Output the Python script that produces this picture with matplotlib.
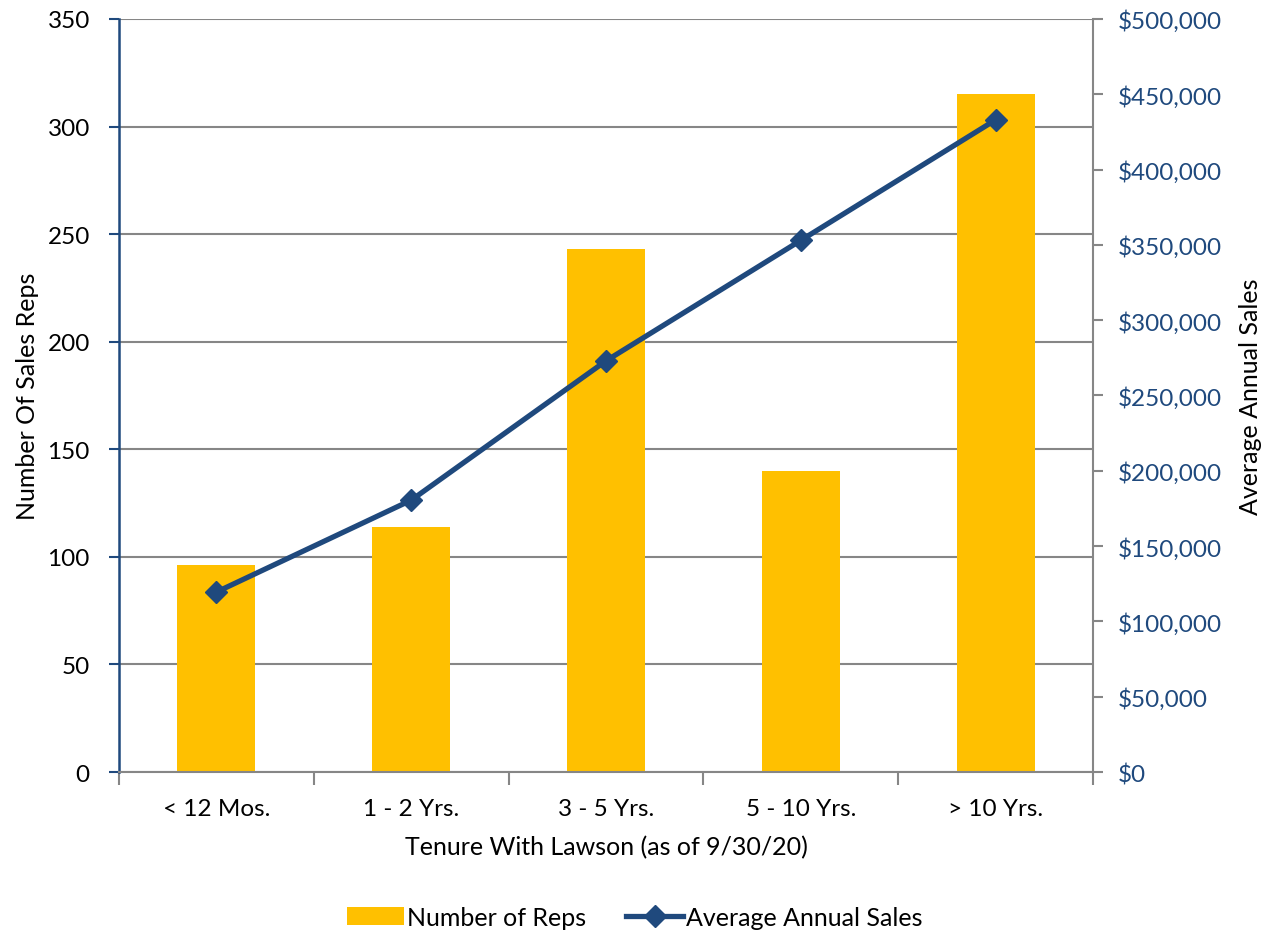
import matplotlib.pyplot as plt
import numpy as np
from matplotlib.ticker import FuncFormatter, FixedLocator

plt.rcParams['font.family'] = ['Lato', 'DejaVu Sans']

tenure = ['< 12 Mos.', '1 - 2 Yrs.', '3 - 5 Yrs.', '5 - 10 Yrs.', '> 10 Yrs.']
num_reps = [96, 114, 243, 140, 315]
avg_sales = [119500, 180500, 273000, 353000, 433000]

BAR_COLOR = '#FFC000'
LINE_COLOR = '#1F497D'
GRID_COLOR = '#868686'
FS = 17.5

fig = plt.figure(figsize=(12.69, 9.37), dpi=100)
ax = fig.add_axes([0.0938, 0.175, 0.7675, 0.8037])
x = np.arange(len(tenure))

bars = ax.bar(x, num_reps, width=0.4, color=BAR_COLOR, zorder=2, label='Number of Reps')
ax.set_xlim(-0.5, len(tenure) - 0.5)
ax.set_ylim(0, 350)
ax.set_yticks(range(0, 351, 50))
ax.yaxis.grid(True, color=GRID_COLOR, lw=1.5, zorder=0)
ax.set_axisbelow(True)

ax.set_xticks(x)
ax.set_xticklabels(tenure)
ax.xaxis.set_minor_locator(FixedLocator(np.arange(-0.5, len(tenure), 1)))
ax.tick_params(axis='x', which='major', length=0, pad=19, labelsize=FS)
ax.tick_params(axis='x', which='minor', length=9, width=1.5, color=GRID_COLOR)
ax.tick_params(axis='y', length=7, width=1.5, color=LINE_COLOR, labelsize=FS, pad=14)

ax.spines['left'].set_color(LINE_COLOR)
ax.spines['left'].set_linewidth(1.8)
ax.spines['bottom'].set_color(GRID_COLOR)
ax.spines['bottom'].set_linewidth(1.5)
ax.spines['top'].set_visible(False)
ax.spines['right'].set_visible(False)

ax.set_xlabel('Tenure With Lawson (as of 9/30/20)', fontsize=18, labelpad=11)
ax.set_ylabel('Number Of Sales Reps', fontsize=18, labelpad=6)

ax2 = ax.twinx()
line, = ax2.plot(x, avg_sales, color=LINE_COLOR, lw=3.8, marker='D', markersize=11,
                 zorder=3, label='Average Annual Sales')
ax2.set_ylim(0, 500000)
ax2.set_yticks(range(0, 500001, 50000))
ax2.yaxis.set_major_formatter(FuncFormatter(lambda v, p: '${:,.0f}'.format(v)))
ax2.tick_params(axis='y', length=7, width=1.5, color=GRID_COLOR, labelcolor=LINE_COLOR,
                labelsize=FS, pad=11)
ax2.spines['right'].set_color(GRID_COLOR)
ax2.spines['right'].set_linewidth(1.5)
for s in ['top', 'left', 'bottom']:
    ax2.spines[s].set_visible(False)
ax2.set_ylabel('Average Annual Sales', fontsize=18, labelpad=12)

fig.legend([bars, line], ['Number of Reps', 'Average Annual Sales'],
           loc='center', bbox_to_anchor=(0.5, 0.02), ncol=2, frameon=False,
           fontsize=18, handlelength=2.3, handleheight=0.7, columnspacing=1.6,
           handletextpad=0.1)

fig.savefig('out.png', dpi=100)
